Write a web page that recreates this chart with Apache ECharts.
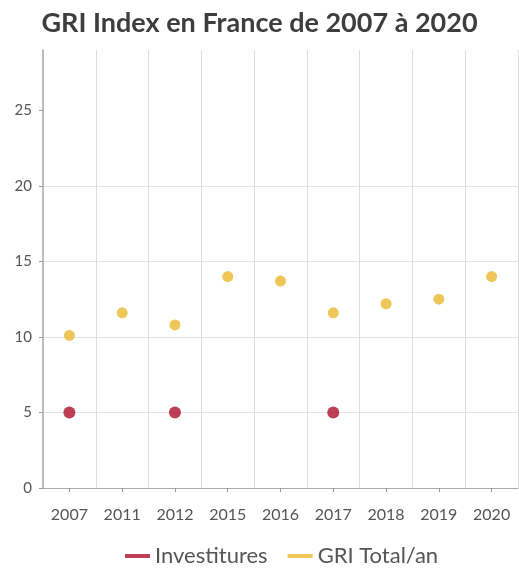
<!DOCTYPE html>
<html>
<head>
<meta charset="utf-8">
<script src="https://cdn.jsdelivr.net/npm/echarts@6/dist/echarts.min.js"></script>
<style>
  html, body { margin: 0; padding: 0; background: #fff; }
  #chart { width: 519px; height: 575px; }
</style>
</head>
<body>
<div id="chart"></div>
<script>
  var annees = ['2007', '2011', '2012', '2015', '2016', '2017', '2018', '2019', '2020']
  var investitures = [5, null, 5, null, null, 5, null, null, null]
  var griTotal = [10.1, 11.6, 10.8, 14.0, 13.7, 11.6, 12.2, 12.5, 14.0]
  var yTicks = [0, 5, 10, 15, 20, 25]

  var chart = echarts.init(document.getElementById('chart'))
  var option = {
    animation: false,
    title: {
      text: 'GRI Index en France de 2007 à 2020',
      left: 'center',
      top: 5,
      textStyle: {
        fontFamily: 'Lato',
        fontWeight: 'bold',
        fontSize: 27,
        color: '#3d3d3d'
      }
    },
    legend: {
      bottom: 3,
      left: 120,
      icon: 'rect',
      itemWidth: 25,
      itemHeight: 4,
      itemGap: 20,
      textStyle: { fontFamily: 'Lato', fontSize: 22, color: '#555' },
      data: ['Investitures', 'GRI Total/an']
    },
    grid: {
      left: 43,
      right: 1,
      top: 50,
      bottom: 87
    },
    xAxis: {
      type: 'category',
      data: annees,
      axisLine: { lineStyle: { color: '#aaa' } },
      axisTick: { show: true, alignWithLabel: true, length: 4, lineStyle: { color: '#999' } },
      axisLabel: { fontFamily: 'Lato', fontSize: 16, color: '#555', margin: 19 },
      splitLine: { show: true, lineStyle: { color: '#ddd' } }
    },
    yAxis: {
      type: 'value',
      min: 0,
      max: 29,
      axisLine: { show: true, lineStyle: { color: '#aaa', width: 1.5 } },
      axisTick: { show: true, length: 4, customValues: yTicks, lineStyle: { color: '#999' } },
      axisLabel: { fontFamily: 'Lato', fontSize: 15, color: '#555', margin: 11, customValues: yTicks },
      splitLine: { show: true, showMaxLine: false, lineStyle: { color: '#e4e4e4' } }
    },
    series: [
      {
        name: 'Investitures',
        type: 'scatter',
        symbolSize: 12,
        itemStyle: { color: '#ad0f2c' },
        data: investitures
      },
      {
        name: 'GRI Total/an',
        type: 'scatter',
        symbolSize: 11,
        itemStyle: { color: '#ebb92e' },
        data: griTotal
      }
    ]
  }
  chart.setOption(option)
</script>
</body>
</html>
